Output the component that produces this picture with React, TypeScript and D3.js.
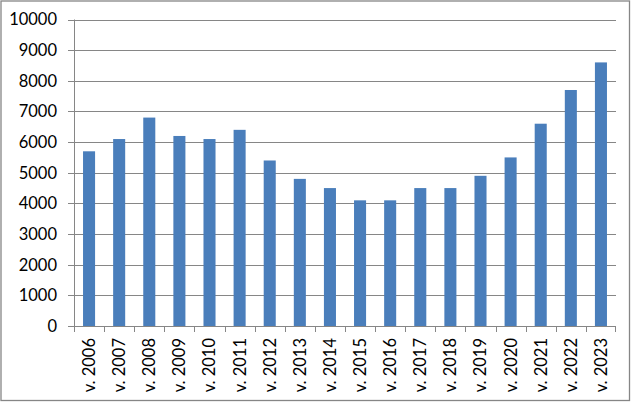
import React from "react";
import * as d3 from "d3";

const categories = ["v. 2006","v. 2007","v. 2008","v. 2009","v. 2010","v. 2011","v. 2012","v. 2013","v. 2014","v. 2015","v. 2016","v. 2017","v. 2018","v. 2019","v. 2020","v. 2021","v. 2022","v. 2023"];
const values = [5700,6100,6800,6200,6100,6400,5400,4800,4500,4100,4100,4500,4500,4900,5500,6600,7700,8600];
const yTicks = [0,1000,2000,3000,4000,5000,6000,7000,8000,9000,10000];

export default function App() {
  const W = 632, H = 403;
  const left = 74, right = 616, top = 19.5, bottom = 326;
  const x = d3.scaleBand<string>().domain(categories).range([left, right]).paddingInner(0.6).paddingOuter(0.3);
  const xb = d3.scaleBand<string>().domain(categories).range([left, right]);
  const y = d3.scaleLinear().domain([0, 10000]).range([bottom, top]);
  const grid = "#868686";
  const font = "Lato, 'Liberation Sans', sans-serif";
  return (
    <div style={{ position: "fixed", left: 0, top: 0 }}>
      <svg width={W} height={H} style={{ display: "block" }}>
        <rect x={0} y={0} width={W} height={H} fill="#fff" />
        <rect x={1} y={1} width={628.5} height={399.5} fill="none" stroke={grid} strokeWidth={1.3} />
        {yTicks.map(t => (
          <g key={t}>
            {t > 0 && <line x1={left} x2={right} y1={Math.round(y(t)) + 0.5} y2={Math.round(y(t)) + 0.5} stroke={grid} strokeWidth={1} />}
            <line x1={68} x2={left} y1={Math.round(y(t)) + 0.5} y2={Math.round(y(t)) + 0.5} stroke={grid} />
            <text x={57} y={y(t)} dy="0.36em" textAnchor="end" fontFamily={font} fontSize={16.5} fill="#000">{t}</text>
          </g>
        ))}
        {categories.map((c, i) => (
          <rect key={c} x={x(c)} y={y(values[i])} width={x.bandwidth()} height={bottom - y(values[i])} fill="#4a7ebb" />
        ))}
        <line x1={left + 0.5} x2={left + 0.5} y1={top} y2={bottom} stroke={grid} />
        <line x1={left} x2={right} y1={bottom + 0.5} y2={bottom + 0.5} stroke={grid} />
        {categories.map(c => (
          <line key={"t" + c} x1={Math.round(xb(c)!) + 0.5} x2={Math.round(xb(c)!) + 0.5} y1={bottom} y2={332} stroke={grid} />
        ))}
        <line x1={right - 0.5} x2={right - 0.5} y1={bottom} y2={332} stroke={grid} />
        {categories.map(c => {
          const cx = xb(c)! + xb.bandwidth() / 2;
          return (
            <text key={"l" + c} transform={`translate(${cx},338) rotate(-90)`} dy="0.36em" textAnchor="end" fontFamily={font} fontSize={16.5} fill="#000">{c}</text>
          );
        })}
      </svg>
    </div>
  );
}
